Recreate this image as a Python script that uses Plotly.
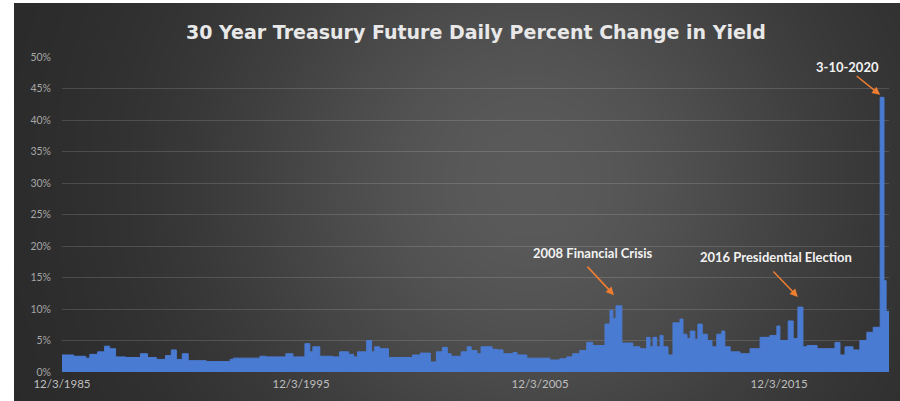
import numpy as np
import plotly.graph_objects as go

# Step levels: date each level starts, daily % change in yield
dates = [
    '1985-12-03', '1986-06-01', '1986-12-01', '1987-02-01', '1987-06-01', '1987-09-15',
    '1987-12-01', '1988-03-01', '1988-08-01', '1989-03-15', '1989-07-01', '1989-11-15',
    '1990-04-01', '1990-07-01', '1990-09-15', '1990-12-15', '1991-03-15', '1991-12-15',
    '1992-12-15', '1993-02-01', '1994-03-15', '1994-06-15', '1995-04-15', '1995-08-01',
    '1996-02-01', '1996-04-15', '1996-06-01', '1996-09-15', '1997-04-01', '1997-07-15',
    '1997-12-01', '1998-02-15', '1998-04-15', '1998-09-01', '1998-11-15', '1999-01-01',
    '1999-03-15', '1999-08-01', '2000-08-01', '2000-12-01', '2001-05-01', '2001-08-01',
    '2001-11-01', '2002-01-15', '2002-03-15', '2002-08-15', '2002-11-15', '2003-01-15',
    '2003-04-15', '2003-06-15', '2003-12-01', '2004-02-15', '2004-05-15', '2004-10-15',
    '2004-12-15', '2005-05-15', '2006-05-01', '2006-10-01', '2007-01-15', '2007-04-15',
    '2007-08-01', '2007-11-15', '2008-02-15', '2008-08-20', '2008-11-05', '2008-12-20',
    '2009-02-05', '2009-05-05', '2009-10-20', '2010-02-05', '2010-05-20', '2010-07-10',
    '2010-08-25', '2010-10-20', '2010-12-10', '2011-01-25', '2011-04-10', '2011-06-25',
    '2011-10-10', '2011-11-25', '2012-01-25', '2012-03-15', '2012-05-25', '2012-07-10',
    '2012-09-15', '2012-12-01', '2013-02-10', '2013-04-25', '2013-07-10', '2013-08-25',
    '2013-11-15', '2014-04-15', '2014-09-15', '2015-02-15', '2015-07-15', '2015-10-30',
    '2015-12-15', '2016-04-20', '2016-07-05', '2016-09-15', '2016-12-01', '2017-02-01',
    '2017-07-05', '2018-04-05', '2018-06-20', '2018-09-05', '2019-01-05', '2019-04-20',
    '2019-08-05', '2019-11-10', '2020-02-24', '2020-04-22', '2020-05-25', '2020-07-08',
]
pct = [
    2.7, 2.5, 2.2, 2.8, 3.2, 4.1,
    3.7, 2.4, 2.3, 2.9, 2.3, 2.0,
    2.6, 3.5, 2.0, 2.9, 1.8, 1.65,
    2.0, 2.2, 2.5, 2.4, 2.9, 2.4,
    4.5, 3.2, 4.0, 2.5, 2.4, 3.2,
    2.8, 2.4, 3.2, 5.0, 3.2, 4.0,
    3.7, 2.3, 2.7, 3.0, 1.6, 3.2,
    3.9, 2.9, 2.5, 3.2, 4.0, 3.4,
    2.9, 4.0, 3.6, 3.5, 2.9, 3.1,
    2.7, 2.2, 1.9, 2.1, 2.4, 2.9,
    3.4, 4.7, 4.2, 7.6, 9.8, 8.5,
    10.5, 4.6, 4.0, 3.7, 5.5, 4.0,
    5.5, 4.0, 5.8, 4.0, 2.7, 7.8,
    8.4, 6.0, 5.3, 6.5, 5.2, 7.6,
    6.0, 5.0, 4.0, 6.0, 6.5, 4.0,
    3.2, 2.9, 3.7, 5.5, 5.8, 7.3,
    5.0, 8.1, 5.3, 10.3, 4.0, 4.2,
    3.7, 4.7, 2.7, 4.0, 3.5, 5.0,
    6.3, 7.1, 43.6, 14.5, 9.6, 9.6,
]

tick_dates = ['1985-12-03', '1995-12-03', '2005-12-03', '2015-12-03']
tick_text = ['12/3/1985', '12/3/1995', '12/3/2005', '12/3/2015']

W, H = 900, 401

# dark radial backdrop, lighter toward the middle
gx = np.linspace(0, 1, 120)
gy = np.linspace(0, 1, 60)
GX, GY = np.meshgrid(gx, gy)
glow = np.exp(-(((GX - 0.58) / 0.36) ** 2 + ((GY - 0.55) / 0.8) ** 2))

fig = go.Figure()

fig.add_trace(go.Heatmap(
    x=gx, y=gy, z=glow,
    colorscale=[[0, '#282828'], [1, '#5a5a5a']],
    zmin=0, zmax=1, zsmooth='best', showscale=False, hoverinfo='skip',
    xaxis='x', yaxis='y'
))

fig.add_trace(go.Scatter(
    x=dates, y=pct,
    mode='lines',
    line=dict(color='#4A7BD3', width=1, shape='hv'),
    fill='tozeroy', fillcolor='#4A7BD3',
    xaxis='x2', yaxis='y2',
    showlegend=False
))

arrow = dict(showarrow=True, arrowhead=2, arrowsize=1, arrowwidth=1.6,
             arrowcolor='#ED7D31', text='', xref='x2', yref='y2')
label = dict(showarrow=False, xref='x2', yref='y2',
             font=dict(family='Lato', size=13, color='#F2F2F2'))

fig.update_layout(
    width=W, height=H,
    autosize=False,
    margin=dict(l=0, r=0, t=0, b=0, pad=0),
    paper_bgcolor='white',
    plot_bgcolor='rgba(0,0,0,0)',
    showlegend=False,
    title=dict(
        text='<b>30 Year Treasury Future Daily Percent Change in Yield</b>',
        x=476 / W, y=1 - 32 / H, xanchor='center', yanchor='middle',
        font=dict(family='DejaVu Sans', size=19, color='#E8E8E8')
    ),
    xaxis=dict(domain=[14 / W, 1], range=[0, 1], visible=False,
               fixedrange=True, automargin=False),
    yaxis=dict(domain=[0, 1 - 3 / H], range=[0, 1], visible=False,
               fixedrange=True, automargin=False),
    xaxis2=dict(
        domain=[62 / W, 889 / W], anchor='y2', type='date',
        range=['1985-12-03', '2020-07-08'],
        tickvals=tick_dates, ticktext=tick_text,
        showgrid=False, zeroline=False, showline=False, ticks='',
        tickfont=dict(family='Lato', size=11.5, color='#BFBFBF'),
        ticklabelstandoff=3, automargin=False
    ),
    yaxis2=dict(
        domain=[(H - 372) / H, (H - 57) / H], anchor='x2',
        range=[0, 50], dtick=5, ticksuffix='%',
        showgrid=True, gridcolor='rgba(255,255,255,0.14)', gridwidth=1,
        zeroline=False, showline=False, ticks='',
        tickfont=dict(family='Lato', size=10.5, color='#A6A6A6'),
        ticklabelstandoff=10, automargin=False
    ),
    annotations=[
        dict(arrow, x='2009-01-05', y=12.2, ax=-28, ay=-30),
        dict(label, x='2008-02-15', y=18.9, text='<b>2008 Financial Crisis</b>'),
        dict(arrow, x='2016-09-15', y=11.9, ax=-26, ay=-27),
        dict(label, x='2015-10-15', y=18.3, text='<b>2016 Presidential Election</b>'),
        dict(arrow, x='2020-02-24', y=44.0, ax=-25, ay=-20),
        dict(label, x='2018-10-20', y=48.4, text='<b>3-10-2020</b>'),
    ]
)

# drop the page's default body margin so the figure sits at the top-left corner
fig.write_html('out.html', config={'displayModeBar': False},
               post_script="document.body.style.margin='0';")
